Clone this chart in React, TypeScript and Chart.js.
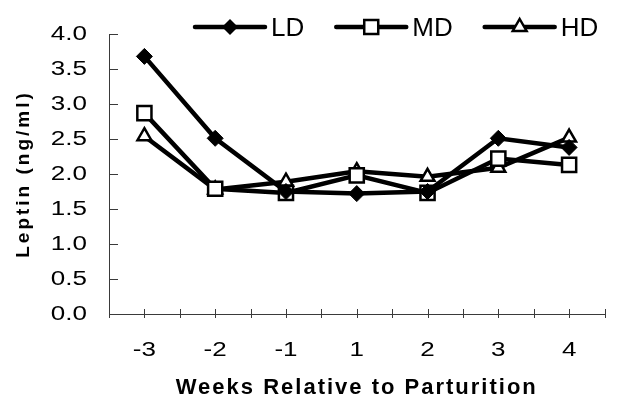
import React, { useEffect, useRef } from 'react';
import { Chart, registerables } from 'chart.js';

Chart.register(...registerables);

const weeks = ['-3', '-2', '-1', '1', '2', '3', '4'];
const ldValues = [3.68, 2.51, 1.75, 1.72, 1.75, 2.51, 2.38];
const mdValues = [2.87, 1.79, 1.73, 1.98, 1.73, 2.22, 2.13];
const hdValues = [2.54, 1.78, 1.89, 2.04, 1.96, 2.09, 2.52];
const seriesNames = ['LD', 'MD', 'HD'];
const yMin = 0;
const yMax = 4;
const yStep = 0.5;

const FONT = '"Liberation Sans", Arial, sans-serif';
const AXIS_COLOR = '#3a3a3a';
const STRETCH = 1.3;

function drawMarker(ctx: CanvasRenderingContext2D, kind: string, x: number, y: number) {
  ctx.save();
  ctx.lineWidth = 2.5;
  ctx.strokeStyle = '#000';
  ctx.beginPath();
  if (kind === 'LD') {
    const r = 8;
    ctx.moveTo(x, y - r);
    ctx.lineTo(x + r, y);
    ctx.lineTo(x, y + r);
    ctx.lineTo(x - r, y);
    ctx.closePath();
    ctx.fillStyle = '#000';
    ctx.fill();
  } else if (kind === 'MD') {
    const s = 7;
    ctx.rect(x - s, y - s, 2 * s, 2 * s);
    ctx.fillStyle = '#fff';
    ctx.fill();
    ctx.stroke();
  } else {
    const r = 8;
    ctx.moveTo(x, y - r);
    ctx.lineTo(x + r * 0.866, y + r * 0.5);
    ctx.lineTo(x - r * 0.866, y + r * 0.5);
    ctx.closePath();
    ctx.fillStyle = '#fff';
    ctx.fill();
    ctx.stroke();
  }
  ctx.restore();
}

const stretchPlugin = {
  id: 'stretchText',
  afterLayout(chart: any) {
    ['x', 'y'].forEach((id) => {
      const scale = chart.scales[id];
      if (!scale || scale.__patched) return;
      scale.__patched = true;
      scale.drawLabels = function (area: any) {
        const c: CanvasRenderingContext2D = this.ctx;
        const items = this.getLabelItems(area);
        for (const item of items) {
          const [tx, ty] = item.options.translation;
          c.save();
          c.translate(tx, ty);
          c.scale(STRETCH, 1);
          c.font = item.font.string;
          c.fillStyle = item.options.color;
          c.textAlign = item.options.textAlign;
          c.textBaseline = item.options.textBaseline;
          c.fillText(String(item.label), 0, item.textOffset);
          c.restore();
        }
      };
      const proto = Object.getPrototypeOf(scale);
      const spacing = id === 'x' ? '2px' : '3px';
      scale.drawTitle = function () {
        const c: any = this.ctx;
        const prev = c.letterSpacing;
        c.letterSpacing = spacing;
        proto.drawTitle.call(this);
        c.letterSpacing = prev;
      };
    });
  },
};

const tickPlugin = {
  id: 'axisTicks',
  beforeDatasetsDraw(chart: any) {
    const { ctx, scales, chartArea } = chart;
    const xs = scales.x;
    const ys = scales.y;
    ctx.save();
    ctx.strokeStyle = AXIS_COLOR;
    ctx.lineWidth = 1;
    for (let v = yMin; v <= yMax + 1e-9; v += yStep) {
      const py = Math.round(ys.getPixelForValue(v)) + 0.5;
      ctx.beginPath();
      ctx.moveTo(chartArea.left, py);
      ctx.lineTo(chartArea.left + 9, py);
      ctx.stroke();
    }
    for (let i = -0.5; i <= weeks.length - 0.5 + 1e-9; i += 0.5) {
      const px = Math.round(xs.getPixelForValue(i)) + 0.5;
      ctx.beginPath();
      ctx.moveTo(px, chartArea.bottom - 5);
      ctx.lineTo(px, chartArea.bottom + 4);
      ctx.stroke();
    }
    ctx.restore();
  },
};

const legendPlugin = {
  id: 'lineLegend',
  afterDraw(chart: any) {
    const ctx: CanvasRenderingContext2D = chart.ctx;
    const y = 27;
    let x = 195;
    const lineLen = 70;
    ctx.save();
    ctx.font = `26px ${FONT}`;
    ctx.textBaseline = 'middle';
    ctx.textAlign = 'left';
    seriesNames.forEach((name) => {
      ctx.beginPath();
      ctx.lineWidth = 4.5;
      ctx.lineCap = 'round';
      ctx.strokeStyle = '#000';
      ctx.moveTo(x, y);
      ctx.lineTo(x + lineLen, y);
      ctx.stroke();
      drawMarker(ctx, name, x + lineLen / 2, y);
      ctx.fillStyle = '#000';
      ctx.fillText(name, x + lineLen + 6, y + 2);
      const w = ctx.measureText(name).width;
      x += lineLen + 6 + w + 32;
    });
    ctx.restore();
  },
};

export default function App() {
  const ref = useRef<HTMLCanvasElement | null>(null);
  useEffect(() => {
    if (!ref.current) return;
    Chart.defaults.color = '#000';
    const common = {
      borderColor: '#000',
      borderWidth: 4.5,
      pointBorderColor: '#000',
      pointBorderWidth: 2.5,
      tension: 0,
    };
    const chart = new Chart(ref.current, {
      type: 'line',
      data: {
        labels: weeks,
        datasets: [
          {
            ...common,
            label: seriesNames[0],
            data: ldValues,
            pointStyle: 'rectRot',
            pointRadius: 8,
            pointBackgroundColor: '#000',
            pointBorderWidth: 1,
          },
          {
            ...common,
            label: seriesNames[1],
            data: mdValues,
            pointStyle: 'rect',
            pointRadius: 10,
            pointBackgroundColor: '#fff',
          },
          {
            ...common,
            label: seriesNames[2],
            data: hdValues,
            pointStyle: 'triangle',
            pointRadius: 8,
            pointBackgroundColor: '#fff',
          },
        ],
      },
      options: {
        responsive: false,
        animation: false,
        events: [],
        layout: { padding: { top: 24, right: 1, left: 4, bottom: 0 } },
        plugins: {
          legend: { display: false },
          tooltip: { enabled: false },
        },
        scales: {
          x: {
            type: 'category',
            offset: true,
            grid: { display: false, drawTicks: false },
            border: { display: true, color: AXIS_COLOR, width: 1 },
            ticks: {
              padding: 24,
              autoSkip: false,
              maxRotation: 0,
              font: { family: FONT, size: 20 },
              color: '#000',
            },
            title: {
              display: true,
              text: 'Weeks Relative to Parturition',
              font: { family: FONT, size: 22, weight: 'bold' },
              color: '#000',
              padding: { top: 0, bottom: -2 },
            },
            afterFit: (s: any) => {
              s.height = 85;
            },
          },
          y: {
            min: yMin,
            max: yMax,
            grid: { display: false, drawTicks: false },
            border: { display: true, color: AXIS_COLOR, width: 1 },
            ticks: {
              stepSize: yStep,
              padding: 22,
              font: { family: FONT, size: 20 },
              color: '#000',
              callback: (v: any) => Number(v).toFixed(1),
            },
            title: {
              display: true,
              text: 'Leptin (ng/ml)',
              font: { family: FONT, size: 19, weight: 'bold' },
              color: '#000',
              padding: { top: 8, bottom: 0 },
            },
            afterFit: (s: any) => {
              s.width = 105;
            },
          },
        },
      } as any,
      plugins: [stretchPlugin, tickPlugin, legendPlugin],
    });
    return () => chart.destroy();
  }, []);
  return (
    <div style={{ position: 'fixed', left: 0, top: 0, width: 617, height: 399, background: '#fff' }}>
      <canvas ref={ref} width={617} height={399} style={{ display: 'block' }} />
    </div>
  );
}
